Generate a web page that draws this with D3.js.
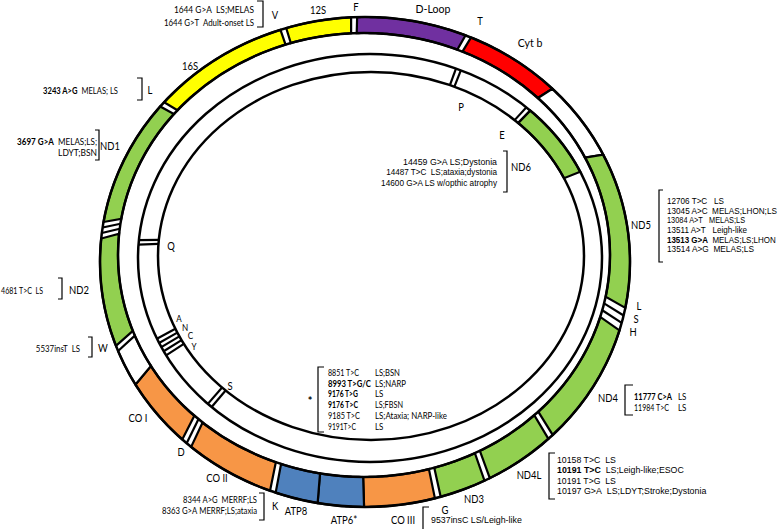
<!DOCTYPE html>
<html><head><meta charset="utf-8">
<script src="https://cdn.jsdelivr.net/npm/d3@7"></script>
<style>body{margin:0;background:#fff}svg{display:block}text{white-space:pre}</style>
</head><body><svg id="c" width="778" height="529"></svg>
<script>
// ---------- DATA ----------
// outer ring (heavy strand genes), degrees clockwise from top
const outerNames  = ["D-Loop","Cyt b","gap1","ND5","ND4","ND4L","ND3","CO III","ATP6","ATP8","CO II","CO I","gap2","ND2","ND1","16S","12S"];
const outerStart  = [-1.7, 23.6, 45, 64, 106.2, 136.2, 153.2, 164.7, 180.2, 190.3, 201.0, 223.6, 240, 250.0, 279.4, 310.7, 342.7];
const outerEnd    = [22.3, 45, 64, 100.8, 134.9, 151.9, 163.4, 180.2, 190.3, 199.7, 221.0, 240, 248.7, 275.5, 309.4, 341.4, 357.0];
const outerKind   = ["dloop","cytb","none","nd","nd","nd","nd","co","atp","atp","co","co","none","nd","nd","rrna","rrna"];
// stripes (tRNA gaps) after each outer segment
const outerStripes = [1,0,0,3,1,1,1,0,0,1,2,0,1,3,1,1,1];
// inner ring (light strand) features
const innerGene = {name:"ND6", start:43.7, end:65};
const innerStripeCenters = [22.4, 43.05, 223.7, 244.1, 274.4];
const innerStripeCounts  = [1, 1, 1, 4, 1];

const geneLabels = ["12S","F","D-Loop","T","Cyt b","V","16S","L","ND1","Q","ND2","W","A","N","C","Y","S","CO I","D","CO II","K","ATP8","ATP6*","CO III","G","ND3","ND4L","ND4","L","S","H","ND5","ND6","E","P"];

const boxTop   = [["1644 G>A","  LS;MELAS"],["1644 G>T","  Adult-onset LS"]];
const boxL     = [["3243 A>G","  MELAS; LS"]];
const boxND1   = [["3697 G>A","  MELAS;LS;"],["","LDYT;BSN"]];
const boxND2   = [["4681 T>C","  LS"]];
const boxW     = [["5537insT","  LS"]];
const boxK     = [["8344 A>G","  MERRF;LS"],["8363 G>A"," MERRF;LS;ataxia"]];
const atp6Col1 = ["8851 T>C","8993 T>G/C","9176 T>G","9176 T>C","9185 T>C","9191T>C"];
const atp6Col2 = ["LS;BSN","LS;NARP","LS","LS;FBSN","LS;Ataxia; NARP-like","LS"];
const boldATP6 = [false,true,true,true,false,false];
const boxCOIII = [["","9537insC LS/Leigh-like"]];
const boxND4L  = [["10158 T>C","  LS"],["10191 T>C","  LS;Leigh-like;ESOC"],["10191 T>G","  LS"],["10197 G>A","  LS;LDYT;Stroke;Dystonia"]];
const boldND4L = [false,true,false,false];
const nd4Col1  = ["11777 C>A","11984 T>C"];
const nd4Col2  = ["LS","LS"];
const boldND4  = [true,false];
const boxND5   = [["12706 T>C","   LS"],["13045 A>C","  MELAS;LHON;LS"],["13084 A>T","   MELAS;LS"],["13511 A>T","   Leigh-like"],["13513 G>A","  MELAS;LS;LHON"],["13514 A>G","  MELAS;LS"]];
const boldND5  = [false,false,false,false,true,false];
const boxND6   = [["","14459 G>A LS;Dystonia"],["","14487 T>C  LS;ataxia;dystonia"],["","14600 G>A LS w/opthic atrophy"]];

// ---------- LAYOUT / STYLE ----------
const colors = {dloop:"#7030a0", cytb:"#ff0000", none:"#ffffff", nd:"#92d050", co:"#f79646", atp:"#4f81bd", rrna:"#ffff00"};
const E1 = {cx:365, cy:262, rx:265, ry:245};
const E2 = {cx:364, cy:255, rx:246, ry:222};
const E3 = {cx:370, cy:258, rx:232, ry:204};
const E4 = {cx:371, cy:256, rx:213, ry:184};
const stripeW = 1.3;
const LW = 2.2;
const calibri = "Lato, 'Open Sans', sans-serif";
const arial = "'Liberation Sans', Arial, sans-serif";

const labelPos = [[318,10],[356,7],[433,9],[480,21],[530,43],[275,15],[190,66],[150,90],[110,146],[171,246],[79,290],[103,348],
  [179,319],[185,327.5],[190.5,335.5],[194,347],[230,386],[138,418],[181,452],[217,478],[275,506],[296,511],[344,520],[403,520],[445,510],
  [474,499],[529,475],[608,398],[639,306],[636,319],[633,332],[641,225],[521,167],[502,135],[461,107]];
const smallLabels = [12,13,14,15];

const svg = d3.select("#c");
const ang = d3.scaleLinear().domain([0,360]).range([0, 2*Math.PI]);
function pt(e, d){ const a = ang(d); return [e.cx + e.rx*Math.sin(a), e.cy - e.ry*Math.cos(a)]; }
const line = d3.line();
function band(eo, ei, d1, d2){
  const n = Math.max(2, Math.ceil(Math.abs(d2-d1)/0.5));
  const pts = [];
  for(let i=0;i<=n;i++) pts.push(pt(eo, d1+(d2-d1)*i/n));
  for(let i=n;i>=0;i--) pts.push(pt(ei, d1+(d2-d1)*i/n));
  return line(pts)+"Z";
}
function radial(eo, ei, d){ return line([pt(eo,d), pt(ei,d)]); }

const g = svg.append("g");
const segs = outerNames.map((n,i)=>({name:n, s:outerStart[i], e:outerEnd[i], kind:outerKind[i], stripes:outerStripes[i]}));
g.selectAll("path.seg").data(segs).join("path").attr("class","seg")
  .attr("d", d=>band(E1,E2,d.s,d.e)).attr("fill", d=>colors[d.kind])
  .attr("stroke","#000").attr("stroke-width",LW);
const extra = [];
segs.forEach((d,i)=>{
  const next = segs[(i+1)%segs.length];
  let ns = next.s; if (ns < d.e) ns += 360;
  for(let k=1;k<d.stripes;k++) extra.push(d.e + (ns-d.e)*k/d.stripes);
});
g.selectAll("path.xl").data(extra).join("path").attr("class","xl")
  .attr("d", d=>radial(E1,E2,d)).attr("stroke","#000").attr("stroke-width",LW);

g.append("path").attr("d", band(E3,E4,innerGene.start,innerGene.end)).attr("fill",colors.nd)
  .attr("stroke","#000").attr("stroke-width",LW);
const innerLines = [];
innerStripeCenters.forEach((c,i)=>{
  const n = innerStripeCounts[i];
  for(let k=0;k<=n;k++) innerLines.push(c - n*stripeW/2 + k*stripeW);
});
g.selectAll("path.il").data(innerLines).join("path").attr("class","il")
  .attr("d", d=>radial(E3,E4,d)).attr("stroke","#000").attr("stroke-width",LW);

g.selectAll("ellipse").data([E1,E2,E3,E4]).join("ellipse")
  .attr("cx",d=>d.cx).attr("cy",d=>d.cy).attr("rx",d=>d.rx).attr("ry",d=>d.ry)
  .attr("fill","none").attr("stroke","#000").attr("stroke-width",LW+0.3);

function drawText(x, y, anchor, parts, font, size, width, sx){
  const gg = svg.append("g").attr("transform", `translate(${x},${y})`);
  const t = gg.append("text").attr("dy","0.35em").attr("text-anchor",anchor)
    .attr("font-family",font).attr("font-size",size).attr("fill","#000");
  parts.forEach(p=>{ if (p[0]) t.append("tspan").attr("font-weight", p[1]?"bold":"normal").text(p[0]); });
  let s = sx || 1;
  if (width) { const L = t.node().getComputedTextLength(); if (L>0) s = width/L; }
  gg.attr("transform", `translate(${x},${y}) scale(${s},1)`);
  return gg;
}

geneLabels.forEach((d,i)=>{
  const big = (d==="D-Loop"||d==="Cyt b");
  const small = smallLabels.includes(i);
  drawText(labelPos[i][0], labelPos[i][1], "middle", [[d,false]], calibri, big?12:(small?9.5:10.5), null, big?0.88:(small?0.85:0.9));
});

function bracket(x, y1, y2, tick){
  svg.append("path").attr("d", line([[x+tick,y1],[x,y1],[x,y2],[x+tick,y2]]))
    .attr("fill","none").attr("stroke","#000").attr("stroke-width",1.2);
}
function rows(rowsArr, x, ys, bold, font, size, anchor, widths, sx){
  rowsArr.forEach((r,i)=>{
    drawText(x, ys[i], anchor, [[r[0], bold[i]],[r[1], false]], font, size, widths ? widths[i] : null, sx);
  });
}

rows(boxTop, 254, [9.5,22.5], [false,false], calibri, 9, "end", [80,90]);
bracket(263, 1, 27, -6);
rows(boxL, 118, [91], [true], calibri, 9, "end", [75]);
bracket(142, 78, 100, -5);
rows(boxND1, 97, [142,153], [true,false], calibri, 9, "end", [80,39]);
bracket(99, 130, 160, -4);
rows(boxND2, 43, [291], [false], calibri, 9, "end", [42]);
bracket(62, 278, 299, -4);
rows(boxW, 80, [349], [false], calibri, 9, "end", [44]);
bracket(92, 337, 357, -4);
rows(boxK, 257, [500,510.5], [false,false], calibri, 9, "end", [74,95]);
bracket(264, 493, 520, -5);
rows(atp6Col1.map(s=>[s,""]), 328, [373,383.5,394,405,415.5,427], boldATP6, calibri, 9, "start", [31,43,30,30,32,28]);
rows(atp6Col2.map(s=>["",s]), 375, [373,383.5,394,405,415.5,427], boldATP6.map(()=>false), calibri, 9, "start", [25,31,0,28,72,0], 0.88);
bracket(318, 367, 432, 6);
drawText(310, 401, "middle", [["*",true]], calibri, 11, null, 1);
rows(boxCOIII, 431, [520], [false], arial, 8.5, "start", [91]);
bracket(423, 507, 532, 6);
rows(boxND4L, 557, [460,470.5,481,491.5], boldND4L, arial, 8.5, "start", [59,127,59,149]);
bracket(549, 453, 499, 6);
rows(nd4Col1.map(s=>[s,""]), 634, [397,407.5], boldND4, calibri, 9, "start", [38,35]);
rows(nd4Col2.map(s=>["",s]), 678, [397,407.5], [false,false], calibri, 9, "start", null, 0.88);
bracket(625, 385, 415, 8);
rows(boxND5, 667, [201,210.7,220.4,230.1,239.8,249.5], boldND5, arial, 8.3, "start", [57,110,78,80,109,87]);
bracket(659, 190, 262, 4);
rows(boxND6, 497, [162,172.5,183], [false,false,false], arial, 8.5, "end", [94,111,116]);
bracket(507, 151, 192, -4);
</script></body></html>
